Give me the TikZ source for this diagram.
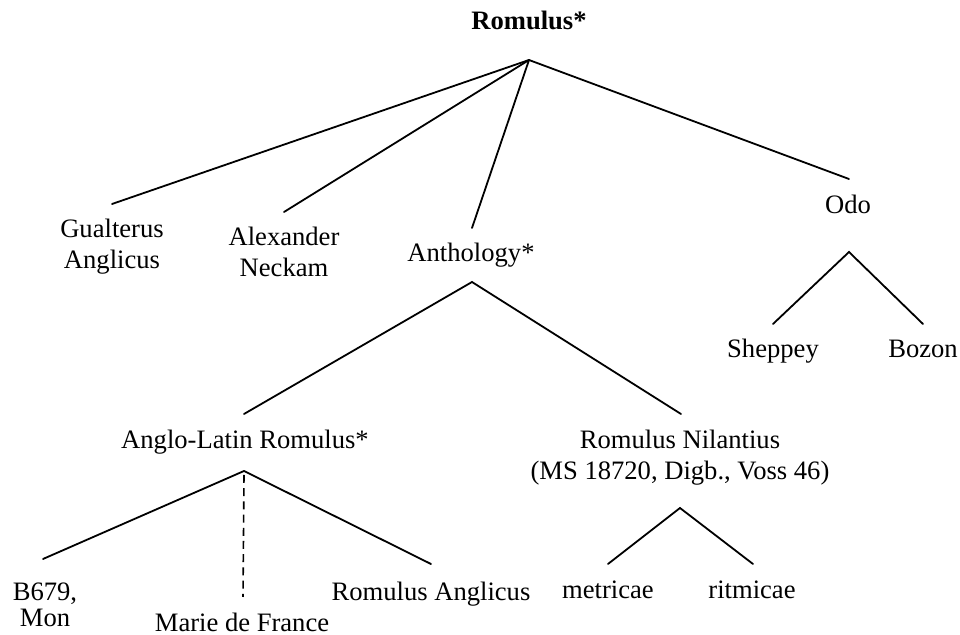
\documentclass[tikz,border=0pt]{standalone}
\usepackage{fontspec}
\setmainfont{Liberation Serif}
\begin{document}
\begin{tikzpicture}[x=0.5pt,y=-0.5pt,
  lbl/.style={inner sep=0pt, anchor=base, align=center, font=\fontsize{13.3}{15.5}\selectfont},
  edge/.style={line width=0.9pt, line cap=round},
  dashedge/.style={line width=0.8pt, dash pattern=on 4pt off 2.6pt}]
\useasboundingbox (0,0) rectangle (960,635);
% labels (multi-line nodes placed by the baseline of their last line)
\node[lbl, font=\fontsize{13.3}{15.5}\selectfont\bfseries] (root) at (529,30) {Romulus*};
\node[lbl] (gual) at (112,269) {Gualterus\\Anglicus};
\node[lbl] (alex) at (284,277) {Alexander\\Neckam};
\node[lbl] (anth) at (471,262) {Anthology*};
\node[lbl] (odo) at (848,214) {Odo};
\node[lbl] (shep) at (773,358) {Sheppey};
\node[lbl] (boz) at (923,358) {Bozon};
\node[lbl] (anglo) at (245,449) {Anglo-Latin Romulus*};
\node[lbl] (nil) at (680,480) {Romulus Nilantius\\(MS 18720, Digb., Voss 46)};
\node[lbl] (bmon) at (45,627) {B679,\\[-2.5pt]Mon};
\node[lbl] (marie) at (242,632) {Marie de France};
\node[lbl] (roman) at (431,601) {Romulus Anglicus};
\node[lbl] (metr) at (608,599) {metricae};
\node[lbl] (ritm) at (752,599) {ritmicae};
% connector points
\coordinate (rootA) at (529,60);
\coordinate (gualT) at (112,204);
\coordinate (alexT) at (284,212);
\coordinate (anthT) at (472,228);
\coordinate (odoT) at (849,179);
\coordinate (odoA) at (849,252);
\coordinate (shepT) at (773,324);
\coordinate (bozT) at (923,324);
\coordinate (anthA) at (472,282);
\coordinate (angloT) at (244,414);
\coordinate (nilT) at (681,414);
\coordinate (angloA) at (244,471);
\coordinate (angloD) at (244,475);
\coordinate (bmonT) at (43,559);
\coordinate (marieT) at (243,597);
\coordinate (romanT) at (431,564);
\coordinate (nilA) at (680,508);
\coordinate (metrT) at (608,564);
\coordinate (ritmT) at (753,564);
% connectors
\draw[edge] (gualT) -- (rootA) -- (odoT);
\draw[edge] (rootA) -- (alexT);
\draw[edge] (rootA) -- (anthT);
\draw[edge] (shepT) -- (odoA) -- (bozT);
\draw[edge] (angloT) -- (anthA) -- (nilT);
\draw[edge] (bmonT) -- (angloA) -- (romanT);
\draw[dashedge] (angloD) -- (marieT);
\draw[edge] (metrT) -- (nilA) -- (ritmT);
\end{tikzpicture}
\end{document}
